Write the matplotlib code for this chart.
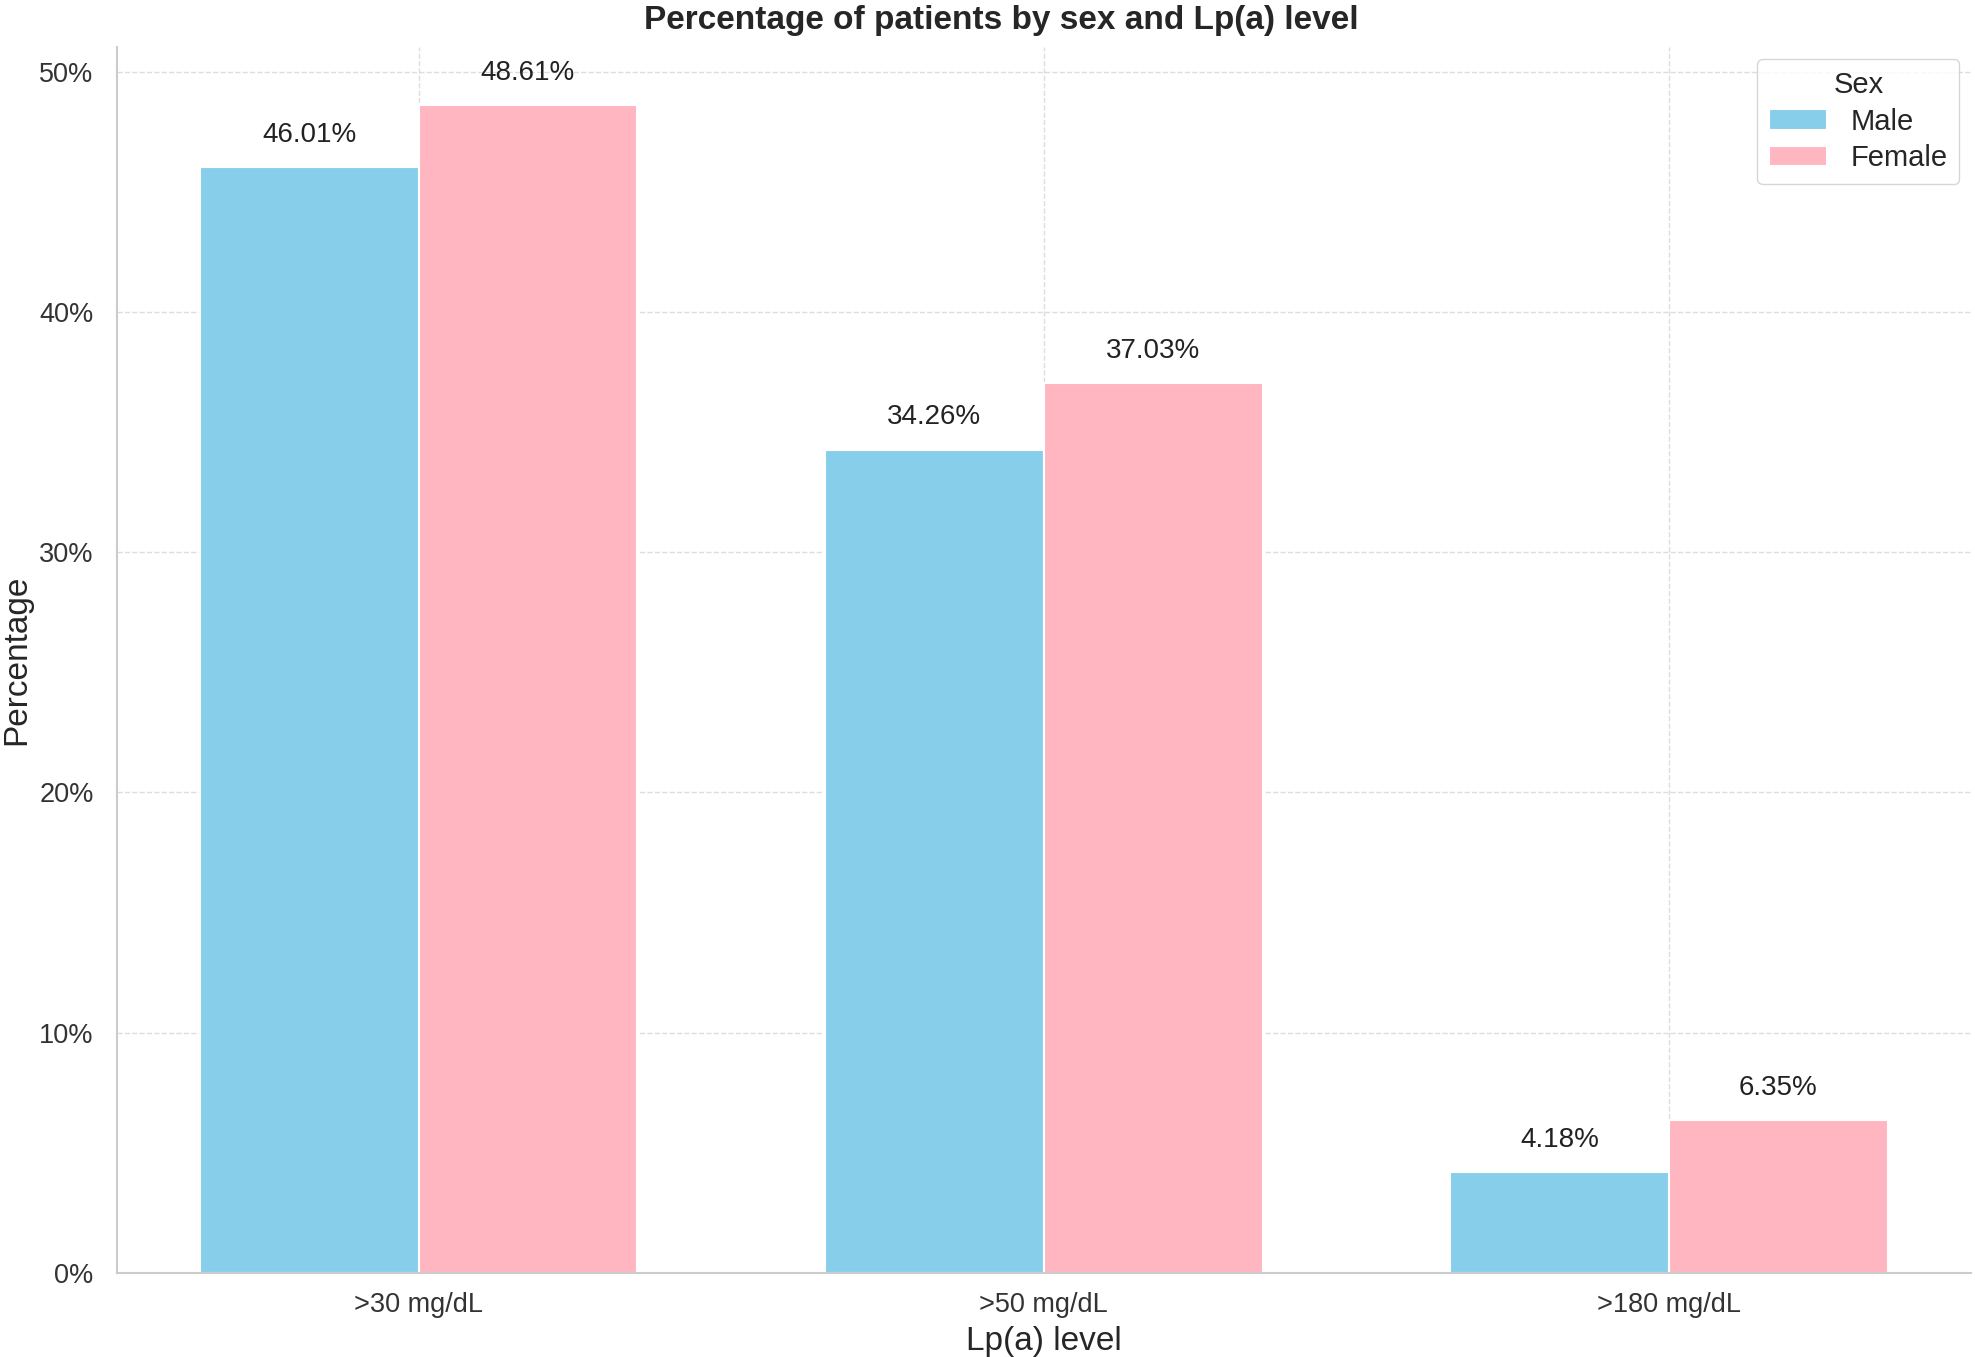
import numpy as np
import matplotlib.pyplot as plt
import seaborn as sns

categories = [">30 mg/dL", ">50 mg/dL", ">180 mg/dL"]
male_pct = [46.01, 34.26, 4.18]
female_pct = [48.61, 37.03, 6.35]
yticks = [0, 10, 20, 30, 40, 50]

sns.set_style("whitegrid", {"grid.linestyle": "--"})
plt.rcParams['font.family'] = ['Liberation Sans', 'DejaVu Sans']

fig = plt.figure(figsize=(19.75, 13.57), dpi=100)
ax = fig.add_axes([0.059, 0.062, 0.939, 0.903])

x = np.arange(len(categories))
width = 0.35
bars_m = ax.bar(x - width / 2, male_pct, width, color="#87CEEB", edgecolor="white", linewidth=1.5, label="Male")
bars_f = ax.bar(x + width / 2, female_pct, width, color="#FFB6C1", edgecolor="white", linewidth=1.5, label="Female")

for bars in (bars_m, bars_f):
    for b in bars:
        h = b.get_height()
        ax.text(b.get_x() + b.get_width() / 2, h + 0.8, f"{h:.2f}%", ha="center", va="bottom",
                fontsize=20, color="#222222")

ax.set_xlim(-0.483, 2.483)
ax.set_ylim(0, 51)
ax.set_xticks(x)
ax.set_xticklabels(categories, fontsize=19.5, color="#333333")
ax.set_yticks(yticks)
ax.set_yticklabels([f"{t}%" for t in yticks], fontsize=19.5, color="#333333")
ax.tick_params(axis="x", pad=10)
ax.tick_params(axis="y", pad=13)
ax.grid(True, linestyle="--", color="#dddddd", linewidth=1)
ax.set_axisbelow(True)
sns.despine(ax=ax)
for s in ("left", "bottom"):
    ax.spines[s].set_color("#cccccc")
    ax.spines[s].set_linewidth(1.5)

ax.set_xlabel("Lp(a) level", fontsize=24, labelpad=6)
ax.set_ylabel("Percentage", fontsize=24, labelpad=5)
ax.set_title("Percentage of patients by sex and Lp(a) level", fontsize=24, fontweight="bold",
             pad=13, x=0.477)

leg = ax.legend(title="Sex", fontsize=21, title_fontsize=21, loc="upper right", frameon=True,
                labelspacing=0.3, borderaxespad=0.4)
leg.get_frame().set_edgecolor("#cccccc")

fig.savefig("out.png", dpi=100)
